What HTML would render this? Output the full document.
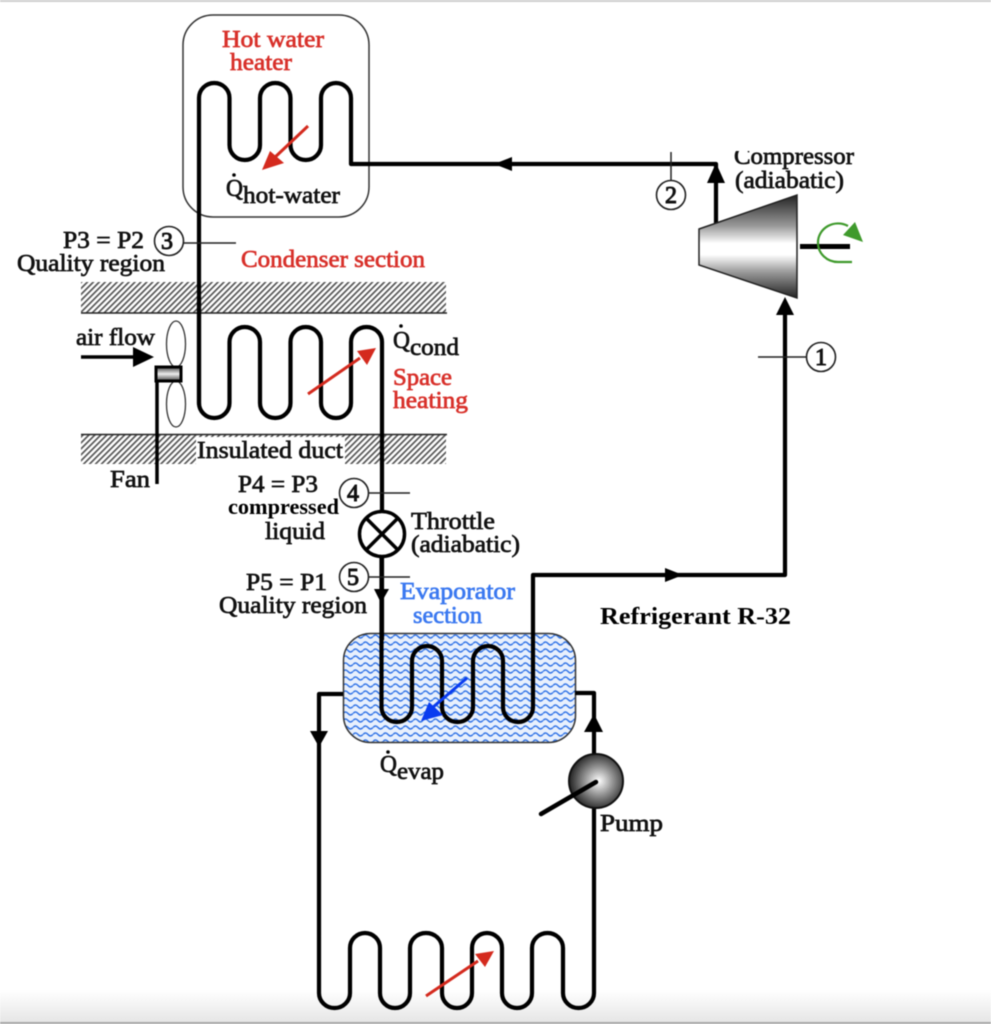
<!DOCTYPE html>
<html><head><meta charset="utf-8">
<style>
html,body{margin:0;padding:0;background:#fff;width:991px;height:1024px;overflow:hidden}
svg{display:block;filter:blur(0.5px)}
text{font-family:"Liberation Serif",serif;font-size:24px;fill:#111;stroke:#111;stroke-width:.7px}
text.r{fill:#d8302a;stroke:#d8302a}
text.b{fill:#3a78f0;stroke:#3a78f0}
text.k{font-weight:bold;fill:#000;stroke:none}
text.n{stroke-width:1px}
.p{fill:none;stroke:#000;stroke-width:4.200;stroke-linejoin:round}
.c{fill:#fff;stroke:#222;stroke-width:1.6}
</style></head><body>
<svg width="991" height="1024" viewBox="0 0 991 1024" xmlns="http://www.w3.org/2000/svg">
<defs>
<pattern id="h" width="4.200" height="4.200" patternUnits="userSpaceOnUse" patternTransform="rotate(45)">
<rect width="4.200" height="4.200" fill="#fff"/><rect width="1.700" height="4.200" fill="#555"/>
</pattern>
<pattern id="w" x="343" y="633" width="10" height="7" patternUnits="userSpaceOnUse">
<rect width="10" height="7" fill="#e8f0fd"/>
<path d="M0 3.500 Q2.500 0.500 5 3.500 T10 3.500" fill="none" stroke="#2f72e6" stroke-width="1.400"/>
</pattern>
<linearGradient id="g" x1="0" y1="0" x2="0" y2="1">
<stop offset="0" stop-color="#222"/><stop offset=".3" stop-color="#999"/><stop offset=".47" stop-color="#fff"/><stop offset=".58" stop-color="#fff"/><stop offset=".75" stop-color="#999"/><stop offset="1" stop-color="#222"/>
</linearGradient>
<linearGradient id="g2" x1="0" y1="0" x2="0" y2="1">
<stop offset="0" stop-color="#444"/><stop offset=".5" stop-color="#eee"/><stop offset="1" stop-color="#444"/>
</linearGradient>
<radialGradient id="rg" cx=".55" cy=".5" r=".55">
<stop offset="0" stop-color="#fff"/><stop offset=".45" stop-color="#999"/><stop offset="1" stop-color="#222"/>
</radialGradient>
<linearGradient id="bot" x1="0" y1="0" x2="0" y2="1">
<stop offset="0" stop-color="#fff"/><stop offset="1" stop-color="#e6e6e6"/>
</linearGradient>
<clipPath id="cmp"><rect x="725" y="151" width="140" height="50"/></clipPath>
</defs>

<rect x="0" y="990" width="991" height="32" fill="url(#bot)"/>
<rect x="0" y="1022" width="991" height="2" fill="#a8a8a8"/>
<rect x="0" y="0" width="991" height="2" fill="#cfcfcf"/>

<!-- heater box -->
<rect x="183" y="15" width="186" height="202" rx="30" fill="#fff" stroke="#333" stroke-width="1.5"/>

<!-- duct -->
<rect x="81" y="282" width="365" height="31" fill="url(#h)"/>
<line x1="81" y1="313" x2="447" y2="313" stroke="#222" stroke-width="1.6"/>
<rect x="81" y="434" width="365" height="30" fill="url(#h)"/>
<line x1="81" y1="434.500" x2="447" y2="434.500" stroke="#222" stroke-width="1.6"/>
<rect x="196" y="437" width="149" height="27" fill="#fff"/>

<!-- evaporator -->
<rect x="343.500" y="633.500" width="232" height="109" rx="27" fill="url(#w)" stroke="#333" stroke-width="1.5"/>

<!-- main refrigerant lines -->
<path class="p" d="M199 405 V98 A15.250 15 0 0 1 229.500 98 V145 A15.250 15 0 0 0 260 145 V98 A15.250 15 0 0 1 290.500 98 V145 A15.250 15 0 0 0 321 145 V98 A15 15 0 0 1 351 98 V164 H716 V224"/>
<path class="p" d="M199 300 V403 A15.250 15 0 0 0 229.500 403 V342 A15.250 15 0 0 1 260 342 V403 A15.250 15 0 0 0 290.500 403 V342 A15.250 15 0 0 1 321 342 V403 A15 15 0 0 0 351 403 V342 A15.500 15 0 0 1 382 342 V640"/>
<path class="p" d="M381.500 557 V707 A15.250 15 0 0 0 412 707 V661 A15 15 0 0 1 442 661 V707 A15.500 15 0 0 0 473 707 V661 A15 15 0 0 1 503 661 V707 A15 15 0 0 0 533 707 V575 H785 V305"/>
<path class="p" d="M343 694 H319 V993 A15.500 15 0 0 0 350 993 V948 A15 15 0 0 1 380 948 V993 A15 15 0 0 0 410 993 V948 A16 15 0 0 1 442 948 V993 A15 15 0 0 0 472 993 V948 A15 15 0 0 1 502 948 V993 A15 15 0 0 0 532 993 V948 A15.500 15 0 0 1 563 948 V993 A15.500 15 0 0 0 594 993 V693 H575"/>

<!-- flow arrowheads -->
<polygon points="494,164 512,157 512,171"/>
<polygon points="716,163 707,183 725,183"/>
<polygon points="785,297 776,315 794,315"/>
<polygon points="683,575 665,568 665,582"/>
<polygon points="381,603 374,589 389,589"/>
<polygon points="319,747 310,731 328,731"/>
<polygon points="594,714 584,732 603,732"/>

<!-- compressor -->
<polygon points="699,229 797,195 797,298 699,265" fill="url(#g)" stroke="#222" stroke-width="1.5"/>
<rect x="800" y="244" width="50" height="5"/>
<path d="M848 226 A20 19 0 0 0 818 243 A20 19 0 0 0 838 262 H852" fill="none" stroke="#3f9a2c" stroke-width="2.200"/>
<polygon points="855,222 863,242 843,235" fill="#3f9a2c"/>

<!-- state markers -->
<g stroke="#222" stroke-width="1.500">
<line x1="671" y1="152" x2="671" y2="182"/>
<line x1="758" y1="357" x2="808" y2="357"/>
<line x1="183" y1="243" x2="236" y2="243"/>
<line x1="368" y1="493" x2="410" y2="493"/>
<line x1="368" y1="577" x2="410" y2="577"/>
</g>
<circle class="c" cx="671" cy="195" r="14.500"/>
<circle class="c" cx="821" cy="357" r="14.500"/>
<circle class="c" cx="169" cy="241" r="14.500"/>
<circle class="c" cx="354" cy="493" r="14.500"/>
<circle class="c" cx="354" cy="577" r="14.500"/>
<text class="n" x="671" y="203" text-anchor="middle">2</text>
<text class="n" x="821" y="365" text-anchor="middle">1</text>
<text class="n" x="167" y="249" text-anchor="middle">3</text>
<text class="n" x="353" y="501" text-anchor="middle">4</text>
<text class="n" x="353" y="585" text-anchor="middle">5</text>

<!-- throttle -->
<circle cx="382" cy="534" r="22.500" fill="#fff" stroke="#000" stroke-width="3.500"/>
<path d="M366 518 L398 550 M398 518 L366 550" stroke="#000" stroke-width="3.500"/>

<!-- fan -->
<ellipse cx="176" cy="344" rx="9.500" ry="23" fill="#fff" stroke="#333" stroke-width="1.300"/>
<ellipse cx="176" cy="404" rx="9.500" ry="23" fill="#fff" stroke="#333" stroke-width="1.300"/>
<rect x="156" y="367" width="25" height="14" fill="url(#g2)" stroke="#000" stroke-width="3"/>
<line x1="157" y1="380" x2="157" y2="484" stroke="#000" stroke-width="3.500"/>
<line x1="81" y1="357" x2="140" y2="357" stroke="#000" stroke-width="3.500"/>
<polygon points="154,357 133,347 133,367"/>

<!-- pump -->
<circle cx="596" cy="781" r="27" fill="url(#rg)" stroke="#111" stroke-width="2"/>
<line x1="596" y1="782" x2="541" y2="814" stroke="#000" stroke-width="4.500" stroke-linecap="round"/>

<!-- heat arrows -->
<g fill="#d42a1e" stroke="#d42a1e">
<line x1="308" y1="126" x2="272" y2="160" stroke-width="3"/>
<polygon stroke="none" points="262,170 270,151 284,163"/>
<line x1="308" y1="394" x2="360" y2="358" stroke-width="3"/>
<polygon stroke="none" points="376,348 357,351 367,365"/>
<line x1="426" y1="996" x2="478" y2="961" stroke-width="3"/>
<polygon stroke="none" points="494,951 475,954 485,967"/>
</g>
<g fill="#0a3cf0" stroke="#0a3cf0">
<line x1="467" y1="678" x2="432" y2="708" stroke-width="3"/>
<polygon stroke="none" points="421,721 429,702 443,715"/>
</g>

<!-- labels -->
<text class="r" x="222" y="47" textLength="102" lengthAdjust="spacingAndGlyphs">Hot water</text>
<text class="r" x="230" y="70" textLength="62" lengthAdjust="spacingAndGlyphs">heater</text>
<text x="226" y="196" textLength="17" lengthAdjust="spacingAndGlyphs">Q</text><circle cx="234" cy="175" r="1.800"/>
<text x="243" y="203" textLength="97" lengthAdjust="spacingAndGlyphs">hot-water</text>
<text x="63" y="248" textLength="81" lengthAdjust="spacingAndGlyphs">P3 = P2</text>
<text x="17" y="271" textLength="148" lengthAdjust="spacingAndGlyphs">Quality region</text>
<text class="r" x="241" y="267" textLength="184" lengthAdjust="spacingAndGlyphs">Condenser section</text>
<text x="76" y="345" textLength="79" lengthAdjust="spacingAndGlyphs">air flow</text>
<text x="393" y="348" textLength="17" lengthAdjust="spacingAndGlyphs">Q</text><circle cx="401" cy="326" r="1.800"/>
<text x="410" y="355" textLength="49" lengthAdjust="spacingAndGlyphs">cond</text>
<text class="r" x="393" y="385" textLength="59" lengthAdjust="spacingAndGlyphs">Space</text>
<text class="r" x="393" y="408" textLength="75" lengthAdjust="spacingAndGlyphs">heating</text>
<text x="197" y="458" textLength="146" lengthAdjust="spacingAndGlyphs">Insulated duct</text>
<text x="110" y="487" textLength="40" lengthAdjust="spacingAndGlyphs">Fan</text>
<text x="238" y="492" textLength="80" lengthAdjust="spacingAndGlyphs">P4 = P3</text>
<text class="k" x="228" y="514" textLength="111" lengthAdjust="spacingAndGlyphs" style="font-size:22px">compressed</text>
<text x="265" y="539" textLength="60" lengthAdjust="spacingAndGlyphs">liquid</text>
<text x="411" y="529" textLength="84" lengthAdjust="spacingAndGlyphs">Throttle</text>
<text x="411" y="552" textLength="109" lengthAdjust="spacingAndGlyphs">(adiabatic)</text>
<text x="246" y="590" textLength="81" lengthAdjust="spacingAndGlyphs">P5 = P1</text>
<text x="219" y="613" textLength="148" lengthAdjust="spacingAndGlyphs">Quality region</text>
<text class="b" x="400" y="599" textLength="115" lengthAdjust="spacingAndGlyphs">Evaporator</text>
<text class="b" x="413" y="623" textLength="69" lengthAdjust="spacingAndGlyphs">section</text>
<text class="k" x="600" y="624" textLength="191" lengthAdjust="spacingAndGlyphs" style="font-size:24px">Refrigerant R-32</text>
<text x="380" y="772" textLength="17" lengthAdjust="spacingAndGlyphs">Q</text><circle cx="388" cy="752" r="1.800"/>
<text x="397" y="779" textLength="47" lengthAdjust="spacingAndGlyphs">evap</text>
<text x="600" y="831" textLength="63" lengthAdjust="spacingAndGlyphs">Pump</text>
<g clip-path="url(#cmp)">
<text x="734" y="164" textLength="120" lengthAdjust="spacingAndGlyphs">Compressor</text>
<text x="735" y="188" textLength="109" lengthAdjust="spacingAndGlyphs">(adiabatic)</text>
</g>
</svg>
</body></html>
